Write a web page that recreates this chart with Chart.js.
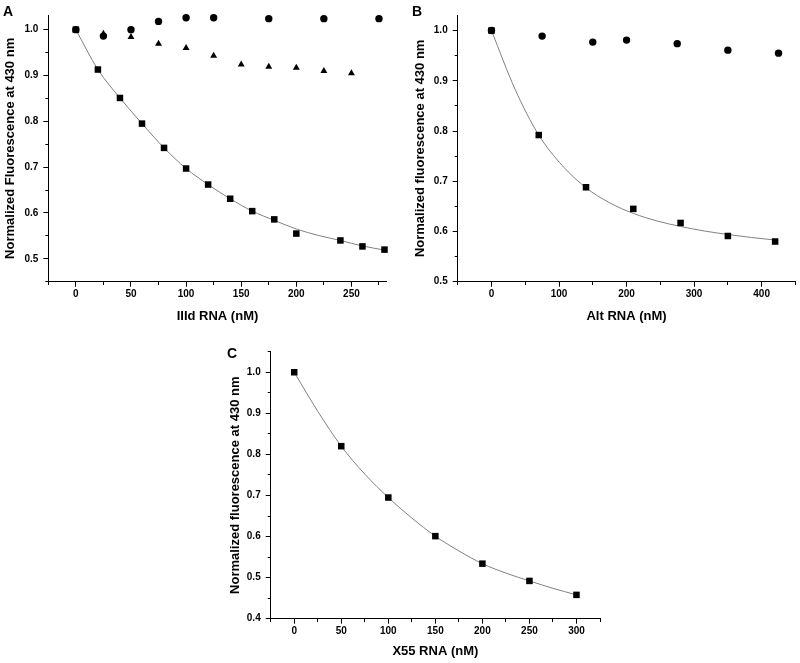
<!DOCTYPE html>
<html>
<head>
<meta charset="utf-8">
<script src="https://cdn.jsdelivr.net/npm/chart.js@4.4.0/dist/chart.umd.min.js"></script>
<style>
  body { margin: 0; background: #fff; width: 800px; height: 663px; position: relative; overflow: hidden; font-family: "Liberation Sans", Arial, sans-serif; }
  canvas { position: absolute; }
  .tag { position: absolute; font-weight: bold; font-size: 14px; line-height: 14px; color: #000; }
</style>
</head>
<body>
<canvas id="chartA" width="400" height="330" style="left:0;top:0"></canvas>
<canvas id="chartB" width="390" height="330" style="left:410px;top:0"></canvas>
<canvas id="chartC" width="400" height="323" style="left:225px;top:340px"></canvas>
<div class="tag" style="left:3px;top:4px">A</div>
<div class="tag" style="left:412px;top:4px">B</div>
<div class="tag" style="left:227px;top:346px">C</div>
<script>
/* ---------- DATA ---------- */
// A: IIId RNA
const aSquareX = [0, 20, 40, 60, 80, 100, 120, 140, 160, 180, 200, 240, 260, 280];
const aSquareY = [1.0, 0.913, 0.851, 0.795, 0.742, 0.697, 0.662, 0.631, 0.604, 0.586, 0.555, 0.540, 0.527, 0.520];
const aCircleX = [0, 25, 50, 75, 100, 125, 175, 225, 275];
const aCircleY = [1.0, 0.986, 1.0, 1.018, 1.026, 1.026, 1.024, 1.024, 1.024];
const aTriangleX = [0, 25, 50, 75, 100, 125, 150, 175, 200, 225, 250];
const aTriangleY = [1.0, 0.991, 0.984, 0.969, 0.960, 0.943, 0.924, 0.919, 0.917, 0.910, 0.905];
const aFitX = [0, 20, 40, 60, 80, 100, 120, 140, 160, 180, 200, 220, 240, 260, 280];
const aFitY = [1.0, 0.913, 0.851, 0.795, 0.742, 0.697, 0.662, 0.631, 0.604, 0.584, 0.565, 0.551, 0.540, 0.528, 0.519];

// B: Alt RNA
const bSquareX = [0, 70, 140, 210, 280, 350, 420];
const bSquareY = [1.0, 0.792, 0.688, 0.645, 0.617, 0.591, 0.580];
const bCircleX = [0, 75, 150, 200, 275, 350, 425];
const bCircleY = [1.0, 0.989, 0.977, 0.981, 0.974, 0.961, 0.955];
const bFitX = [0, 35, 70, 105, 140, 175, 210, 245, 280, 315, 350, 385, 420];
const bFitY = [1.0, 0.883, 0.792, 0.731, 0.687, 0.657, 0.636, 0.621, 0.610, 0.601, 0.594, 0.588, 0.583];

// C: X55 RNA
const cSquareX = [0, 50, 100, 150, 200, 250, 300];
const cSquareY = [1.0, 0.820, 0.695, 0.601, 0.534, 0.492, 0.458];
const cFitX = [0, 25, 50, 75, 100, 125, 150, 175, 200, 225, 250, 275, 300];
const cFitY = [1.0, 0.905, 0.820, 0.752, 0.695, 0.645, 0.601, 0.565, 0.534, 0.511, 0.492, 0.474, 0.458];

/* ---------- HELPERS ---------- */
const FONT = '"Liberation Sans", Arial, sans-serif';
const pts = (xs, ys) => xs.map((x, i) => ({ x, y: ys[i] }));
const isMult = (v, m) => Math.abs(v / m - Math.round(v / m)) < 1e-6;

function markers(data, style, r) {
  return {
    data, showLine: false, pointStyle: style, pointRadius: r,
    pointBackgroundColor: "#000", pointBorderColor: "#000", pointBorderWidth: 0,
    clip: false
  };
}

function fitLine(data) {
  return {
    data, showLine: true, pointRadius: 0, borderColor: "#808080", borderWidth: 1,
    cubicInterpolationMode: "monotone", fill: false
  };
}

function makePanel(id, p) {
  return new Chart(document.getElementById(id), {
    type: "scatter",
    data: { datasets: p.datasets },
    options: {
      responsive: false,
      animation: false,
      layout: { padding: p.padding },
      plugins: { legend: { display: false }, tooltip: { enabled: false } },
      scales: {
        x: {
          type: "linear", min: p.xMin, max: p.xMax,
          afterFit: s => { s.height = p.xHeight; },
          border: { display: true, color: "#000", width: 1 },
          grid: {
            display: true, drawOnChartArea: false, drawTicks: true, tickLength: 5,
            tickColor: "#000", tickWidth: 1,
            // minor ticks drawn shorter
            tickBorderDash: c => (c.tick && isMult(c.tick.value, p.xMajor)) ? [] : [3, 20]
          },
          ticks: {
            stepSize: p.xStep, autoSkip: false, maxRotation: 0, includeBounds: false, maxTicksLimit: 100,
            padding: 2, color: "#000", font: { family: FONT, size: 10, weight: "bold" },
            callback: v => (v >= 0 && isMult(v, p.xMajor)) ? String(v) : ""
          },
          title: {
            display: true, text: p.xTitle, color: "#000",
            font: { family: FONT, size: 13, weight: "bold" },
            padding: { top: 0, bottom: p.xTitlePad }
          }
        },
        y: {
          type: "linear", min: p.yMin, max: p.yMax,
          afterFit: s => { s.width = p.yWidth; },
          border: { display: true, color: "#000", width: 1 },
          grid: {
            display: true, drawOnChartArea: false, drawTicks: true, tickLength: 5,
            tickColor: "#000", tickWidth: 1,
            tickBorderDash: c => (c.tick && isMult(c.tick.value, 0.1)) ? [] : [0, 2, 3, 20]
          },
          ticks: {
            stepSize: 0.05, autoSkip: false, includeBounds: false, maxTicksLimit: 100,
            padding: 5, color: "#000", font: { family: FONT, size: 10, weight: "bold" },
            callback: v => isMult(v, 0.1) ? v.toFixed(1) : ""
          },
          title: {
            display: true, text: p.yTitle, color: "#000",
            font: { family: FONT, size: 13, weight: "bold" },
            padding: { top: 2.2, bottom: 0 }
          }
        }
      }
    }
  });
}

/* ---------- PANELS ---------- */
makePanel("chartA", {
  datasets: [
    markers(pts(aSquareX, aSquareY), "rect", 4.6),
    markers(pts(aCircleX, aCircleY), "circle", 3.7),
    markers(pts(aTriangleX, aTriangleY), "triangle", 4),
    fitLine(pts(aFitX, aFitY))
  ],
  xMin: -25, xMax: 282, xStep: 25, xMajor: 50,
  yMin: 0.45, yMax: 1.032,
  xTitle: "IIId RNA (nM)", yTitle: "Normalized Fluorescence at 430 nm",
  padding: { left: 0, top: 15, right: 13.3, bottom: 0 },
  yWidth: 48.3, xHeight: 48.3, xTitlePad: 5.5
});

makePanel("chartB", {
  datasets: [
    markers(pts(bSquareX, bSquareY), "rect", 4.6),
    markers(pts(bCircleX, bCircleY), "circle", 3.7),
    fitLine(pts(bFitX, bFitY))
  ],
  xMin: -50, xMax: 450, xStep: 50, xMajor: 100,
  yMin: 0.5, yMax: 1.031,
  xTitle: "Alt RNA (nM)", yTitle: "Normalized fluorescence at 430 nm",
  padding: { left: 0, top: 15, right: 3.4, bottom: 0 },
  yWidth: 47.7, xHeight: 48.3, xTitlePad: 5.5
});

makePanel("chartC", {
  datasets: [
    markers(pts(cSquareX, cSquareY), "rect", 4.6),
    fitLine(pts(cFitX, cFitY))
  ],
  xMin: -25, xMax: 325, xStep: 25, xMajor: 50,
  yMin: 0.4, yMax: 1.05,
  xTitle: "X55 RNA (nM)", yTitle: "Normalized fluorescence at 430 nm",
  padding: { left: 0, top: 11.7, right: 25, bottom: 0 },
  yWidth: 45.7, xHeight: 44.3, xTitlePad: 3.5
});
</script>
</body>
</html>
